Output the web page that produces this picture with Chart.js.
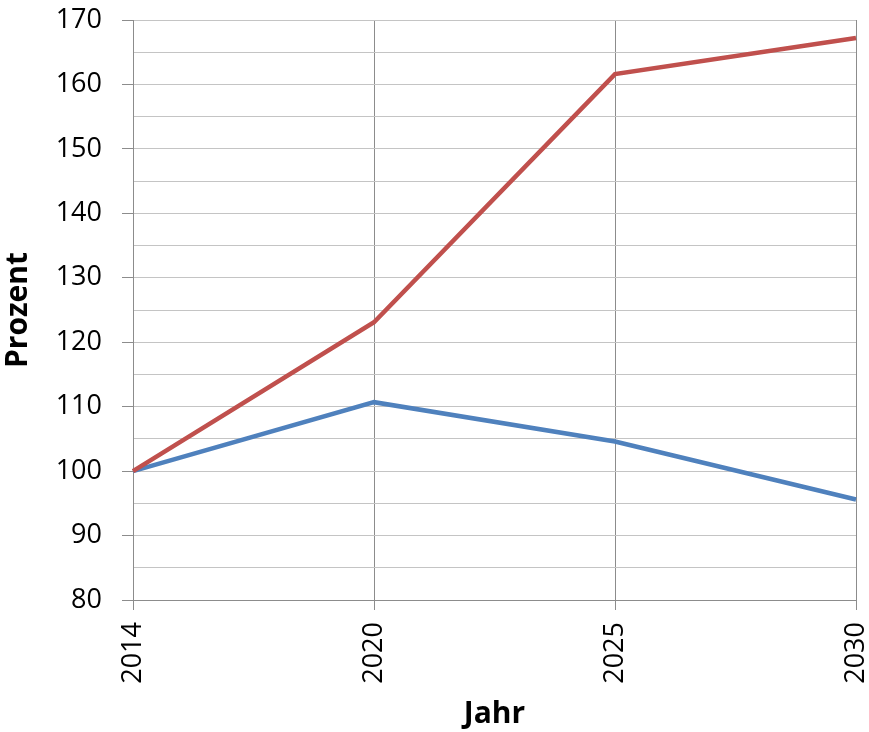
<!DOCTYPE html>
<html>
<head>
<meta charset="utf-8">
<script src="https://cdn.jsdelivr.net/npm/chart.js@4"></script>
<style>
  body { margin: 0; background: #fff; }
  #wrap { width: 869px; height: 732px; }
</style>
</head>
<body>
<div id="wrap"><canvas id="chart" width="869" height="732"></canvas></div>
<script>
const years = ['2014', '2020', '2025', '2030'];
const redSeries = [100, 123.1, 161.6, 167.2];
const blueSeries = [100, 110.7, 104.6, 95.6];
const yMin = 80;
const yMax = 170;

const tickFont = { family: '"Open Sans", "Liberation Sans", sans-serif', size: 27 };
const titleFont = { family: '"Open Sans", "Liberation Sans", sans-serif', size: 30, weight: 'bold' };

new Chart(document.getElementById('chart'), {
    type: 'line',
    data: {
        labels: years,
        datasets: [{
            label: 'rot',
            data: redSeries,
            borderColor: '#C0504D',
            borderWidth: 4.5,
            pointRadius: 0,
            tension: 0
        }, {
            label: 'blau',
            data: blueSeries,
            borderColor: '#4F81BD',
            borderWidth: 4.5,
            pointRadius: 0,
            tension: 0
        }]
    },
    options: {
        responsive: false,
        animation: false,
        layout: { padding: { top: 20, right: 13, left: 0, bottom: 0 } },
        plugins: { legend: { display: false }, tooltip: { enabled: false } },
        scales: {
            x: {
                offset: false,
                grid: { color: '#8c8c8c', tickColor: '#8c8c8c', tickLength: 10 },
                border: { color: '#8c8c8c' },
                ticks: { color: '#000', font: tickFont, minRotation: 90, maxRotation: 90, padding: 12, autoSkip: false },
                title: { display: true, text: 'Jahr', color: '#000', font: titleFont, padding: { top: 0, bottom: 0 } },
                afterFit: function(scale) {
                    scale.height = 132;
                    scale.paddingLeft = 0;
                    scale.paddingRight = 0;
                }
            },
            y: {
                min: yMin,
                max: yMax,
                grid: {
                    color: '#c4c4c4',
                    tickLength: 11,
                    tickColor: function(ctx) { return ctx.tick && ctx.tick.value % 10 === 0 ? '#8c8c8c' : 'rgba(0,0,0,0)'; }
                },
                border: { color: '#8c8c8c' },
                ticks: {
                    stepSize: 5,
                    autoSkip: false,
                    color: '#000',
                    font: tickFont,
                    padding: 20,
                    callback: function(v) { return v % 10 === 0 ? v : ''; }
                },
                title: { display: true, text: 'Prozent', color: '#000', font: titleFont, padding: { top: 0, bottom: 0 } },
                afterFit: function(scale) {
                    scale.width = 133;
                    scale.paddingTop = 0;
                    scale.paddingBottom = 0;
                }
            }
        }
    }
});
</script>
</body>
</html>
